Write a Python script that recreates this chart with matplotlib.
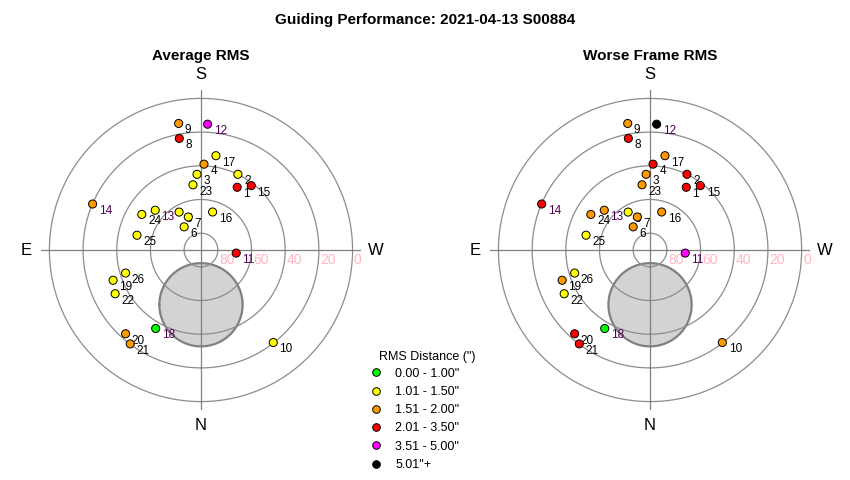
import numpy as np
import matplotlib
matplotlib.use("Agg")
import matplotlib.pyplot as plt
from matplotlib.lines import Line2D

plt.rcParams["font.family"] = ["Liberation Sans", "DejaVu Sans"]

# guide star positions for each frame number
frame_ids = list(range(1, 27))
azimuth = [210, 206, 177, 182, 150, 144, 159, 169, 170, 322, 275, 183, 131,
           113, 218, 197, 189, 30, 71, 42, 37, 63, 173, 121, 103, 73]
altitude = [47, 40, 45, 39, 64, 73, 69, 22.5, 13.7, 20.3, 69, 15.2, 54,
            20.1, 41.5, 66.4, 33.3, 36.2, 34.8, 23.1, 20.2, 32.8, 51, 49, 51, 43.2]

# RMS category per frame (index into the legend)
avg_class = [3, 1, 1, 2, 1, 1, 1, 3, 2, 1, 3, 4, 1,
             2, 3, 1, 1, 0, 1, 2, 2, 1, 1, 1, 1, 1]
worst_class = [3, 3, 2, 3, 1, 2, 2, 3, 2, 2, 4, 5, 2,
               3, 3, 2, 2, 0, 2, 3, 3, 1, 2, 2, 1, 1]

class_labels = ['0.00 - 1.00"', '1.01 - 1.50"', '1.51 - 2.00"',
                '2.01 - 3.50"', '3.51 - 5.00"', '5.01"+']
class_colors = ["#00ff00", "#ffff00", "#ff9900", "#ff0000", "#ff00ff", "#000000"]

ring_alt = [80, 60, 40, 20, 0]

# excluded zone (grey disc) near the pole, in zenith distance
zone_center_zd = 32.5
zone_radius = 24.7

purple_ids = [11, 12, 13, 14, 18]

fig = plt.figure(figsize=(8.5, 4.8), dpi=100)
fig.text(0.5, 0.958, "Guiding Performance: 2021-04-13 S00884",
         ha="center", va="center", fontsize=11, fontweight="bold")


def draw_panel(rect, title, classes):
    ax = fig.add_axes(rect, projection="polar")
    ax.set_theta_zero_location("S")
    ax.set_theta_direction(-1)
    ax.set_rlim(0, 95)
    ax.grid(False)
    ax.spines["polar"].set_visible(False)
    ax.set_xticks([])
    ax.set_yticks([])
    ax.patch.set_alpha(0)

    # grey zone
    t = np.linspace(0, 2 * np.pi, 300)
    xe = zone_radius * np.cos(t)
    yn = zone_center_zd + zone_radius * np.sin(t)
    ax.fill(np.arctan2(xe, yn), np.hypot(xe, yn), facecolor="#d3d3d3",
            edgecolor="#808080", lw=1.6, zorder=1)

    # rings and cross
    full = np.linspace(0, 2 * np.pi, 400)
    for a in ring_alt:
        ax.plot(full, np.full_like(full, 90 - a), color="#8c8c8c", lw=0.9, zorder=2)
        ax.annotate(str(a), xy=(3 * np.pi / 2, 90 - a), xytext=(1, -2),
                    textcoords="offset points", ha="left", va="top",
                    color="#ffb6c1", fontsize=10, zorder=2)
    for th in [0, np.pi / 2, np.pi, 3 * np.pi / 2]:
        ax.plot([th, th], [0, 95], color="#808080", lw=0.9, zorder=2)

    for name, deg in [("N", 0), ("E", 90), ("S", 180), ("W", 270)]:
        ax.text(np.radians(deg), 104, name, ha="center", va="center",
                fontsize=12, clip_on=False)

    theta = np.radians(azimuth)
    zd = 90 - np.array(altitude)
    for fid, th, r in zip(frame_ids, theta, zd):
        col = "#500050" if fid in purple_ids else "black"
        ax.annotate(str(fid), xy=(th, r), xytext=(4.5, -5),
                    textcoords="offset points", ha="left", va="center",
                    fontsize=8.5, color=col, zorder=3)
    ax.scatter(theta, zd, s=34, c=[class_colors[c] for c in classes],
               edgecolors="black", linewidths=0.7, zorder=4)

    ax.set_title(title, fontsize=11, fontweight="bold", pad=0, y=1.095)
    return ax


draw_panel([0.0482, 0.1458, 0.3765, 0.6667], "Average RMS", avg_class)
draw_panel([0.5765, 0.1458, 0.3765, 0.6667], "Worse Frame RMS", worst_class)

handles = [Line2D([], [], ls="", marker="o", markersize=5.5,
                  markerfacecolor=c, markeredgecolor="black", markeredgewidth=0.7)
           for c in class_colors]
fig.text(379 / 850, 1 - 357 / 480, 'RMS Distance (")', ha="left", va="center",
         fontsize=9)
leg = fig.legend(handles, class_labels,
                 loc="upper left", bbox_to_anchor=(0.4358, 0.234),
                 frameon=False, fontsize=9,
                 handlelength=0.9, handletextpad=1.07, labelspacing=0.5,
                 borderpad=0, borderaxespad=0)

fig.savefig("out.png", dpi=100)
